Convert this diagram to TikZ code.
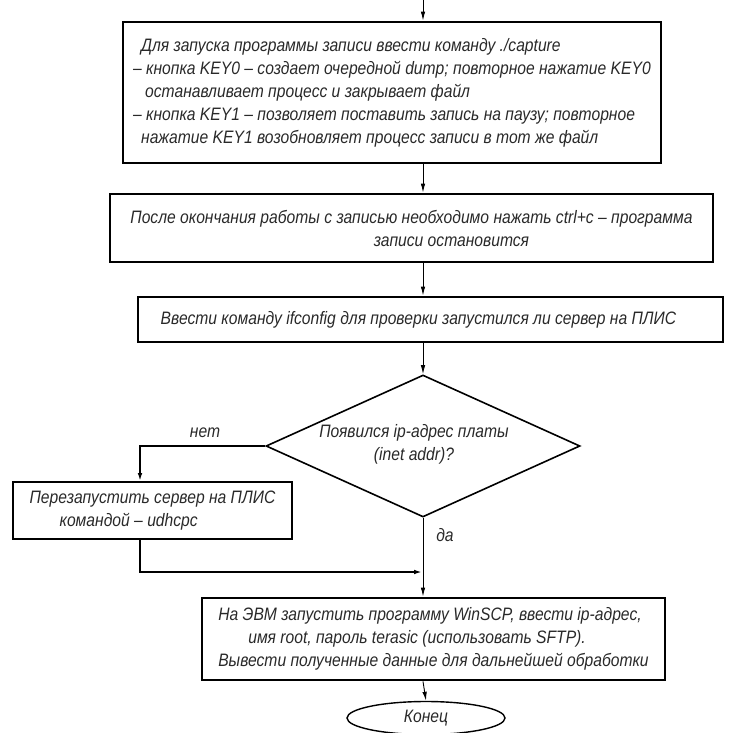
\documentclass[tikz,border=0pt]{standalone}
\usepackage{fontspec}
\setmainfont{Liberation Sans}[FakeStretch=0.87]
\usetikzlibrary{shapes.geometric,arrows.meta}
\definecolor{ink}{rgb}{0.16,0.16,0.16}
\begin{document}
\begin{tikzpicture}[x=1pt,y=-1pt,
  every node/.style={font=\itshape\fontsize{18}{23}\selectfont, text=ink},
  box/.style={draw, line width=2.8pt, rectangle, inner sep=0pt, align=left},
  thinbox/.style={draw, line width=1.8pt, rectangle, inner sep=0pt, align=center},
  decision/.style={draw, line width=1.6pt, diamond, inner sep=0pt, align=center},
  term/.style={draw, line width=1.4pt, ellipse, inner sep=0pt},
  conn/.style={line width=0.9pt},
  thickconn/.style={line width=1.8pt},
  arr/.style={-{Latex[length=9pt,width=4.5pt]}},
  lbl/.style={font=\itshape\fontsize{18}{20}\selectfont}]
\useasboundingbox (0,0) rectangle (728,733);
\coordinate (axis) at (423,0);
\node[box, minimum width=538pt, minimum height=141pt] (b1) at (392,92.5)
 {\hspace*{8pt}Для запуска программы записи ввести команду ./capture\\
  – кнопка KEY0 – создает очередной dump; повторное нажатие KEY0\\
  \hspace*{12pt}останавливает процесс и закрывает файл\\
  – кнопка KEY1 – позволяет поставить запись на паузу; повторное\\
  \hspace*{8pt}нажатие KEY1 возобновляет процесс записи в тот же файл};
\node[box, align=center, minimum width=603pt, minimum height=68pt] (b2) at (411.5,228)
 {После окончания работы с записью необходимо нажать ctrl+c – программа\\
  \hspace*{80pt}записи остановится};
\node[box, align=left, minimum width=585pt, minimum height=45pt] (b3) at (430.5,319.5)
 {Ввести команду ifconfig для проверки запустился ли сервер на ПЛИС\hspace*{24pt}};
\node[decision, minimum width=314pt, minimum height=142pt] (d) at (423,446) {};
\node (dt) at (414,444) [align=center] {Появился ip-адрес платы\\(inet addr)?};
\node[thinbox, align=left, minimum width=279pt, minimum height=57pt] (lb) at (152.5,510.5)
 {Перезапустить сервер на ПЛИС\\ \hspace*{30pt}командой – udhcpc};
\node[box, minimum width=463pt, minimum height=82pt] (b4) at (433.5,639)
 {На ЭВМ запустить программу WinSCP, ввести ip-адрес,\\
  \hspace*{30pt}имя root, пароль terasic (использовать SFTP).\\
  Вывести полученные данные для дальнейшей обработки};
\node[term, minimum width=158pt, minimum height=33pt] (e) at (426,718) {Конец};
\coordinate (lbtop) at (140,482);
\coordinate (lbbot) at (140,539);
\coordinate (j) at (423,572);
\draw[conn, arr] (axis) -- (axis |- b1.north);
\draw[conn, arr] (axis |- b1.south) -- (axis |- b2.north);
\draw[conn, arr] (axis |- b2.south) -- (axis |- b3.north);
\draw[conn, arr] (axis |- b3.south) -- (d.north);
\draw[thickconn, arr] (d.west) -| (lbtop);
\draw[thickconn, arr] (lbbot) |- (j);
\draw[conn, arr] (d.south) -- (d.south |- b4.north);
\draw[conn, arr] (d.south |- b4.south) -- (e.north);
\node[lbl] (no) at (205,433) {нет};
\node[lbl] (yes) at (445,535) {да};
\end{tikzpicture}
\end{document}
